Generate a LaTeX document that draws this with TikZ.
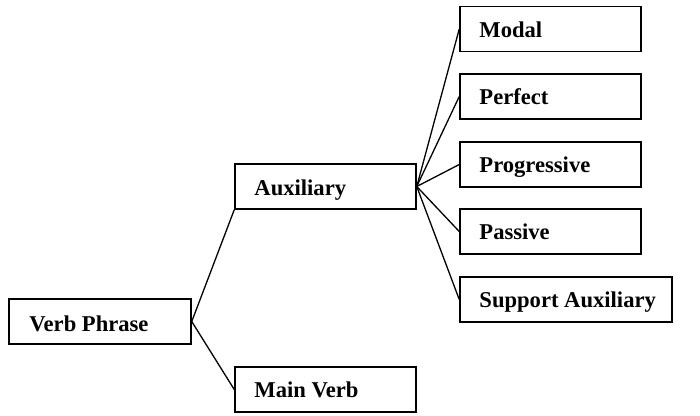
\documentclass[tikz,border=0pt]{standalone}
\usepackage{fontspec}
\setmainfont{Liberation Serif}
\begin{document}
\begin{tikzpicture}[x=1pt,y=-1pt,
  box/.style={draw=black, line width=1.5pt, rectangle, minimum height=45pt, inner sep=0pt},
  lbl/.style={anchor=base west, inner sep=0pt, font=\fontsize{22.6}{27}\selectfont\bfseries},
  conn/.style={draw=black, line width=1.3pt}]
\useasboundingbox (0,0) rectangle (700,415);
\node[box, minimum width=182pt] (vp) at (100,321.5) {};
\node[box, minimum width=181pt] (aux) at (325.5,186.5) {};
\node[box, minimum width=181pt] (mv) at (325.5,389.5) {};
\node[box, minimum width=181pt] (modal) at (550.5,29) {};
\node[box, minimum width=181pt] (perf) at (550.5,96.5) {};
\node[box, minimum width=181pt] (prog) at (550.5,164.5) {};
\node[box, minimum width=181pt] (pass) at (550.5,231.5) {};
\node[box, minimum width=212pt] (supp) at (566,299.5) {};
\node[lbl] (tvp) at ([xshift=21pt,yshift=-9.5pt]vp.west) {Verb Phrase};
\node[lbl] (taux) at ([xshift=20pt,yshift=-8.5pt]aux.west) {Auxiliary};
\node[lbl] (tmv) at ([xshift=20pt,yshift=-8pt]mv.west) {Main Verb};
\node[lbl] (tmodal) at ([xshift=20pt,yshift=-8pt]modal.west) {Modal};
\node[lbl] (tperf) at ([xshift=20pt,yshift=-8pt]perf.west) {Perfect};
\node[lbl] (tprog) at ([xshift=20pt,yshift=-8pt]prog.west) {Progressive};
\node[lbl] (tpass) at ([xshift=20pt,yshift=-8pt]pass.west) {Passive};
\node[lbl] (tsupp) at ([xshift=20pt,yshift=-8pt]supp.west) {Support Auxiliary};
\draw[conn] (vp.east) -- (aux.south west);
\draw[conn] (vp.east) -- (mv.west);
\draw[conn] (aux.east) -- (modal.west);
\draw[conn] (aux.east) -- (perf.west);
\draw[conn] (aux.east) -- (prog.west);
\draw[conn] (aux.east) -- (pass.west);
\draw[conn] (aux.east) -- (supp.west);
\end{tikzpicture}
\end{document}
